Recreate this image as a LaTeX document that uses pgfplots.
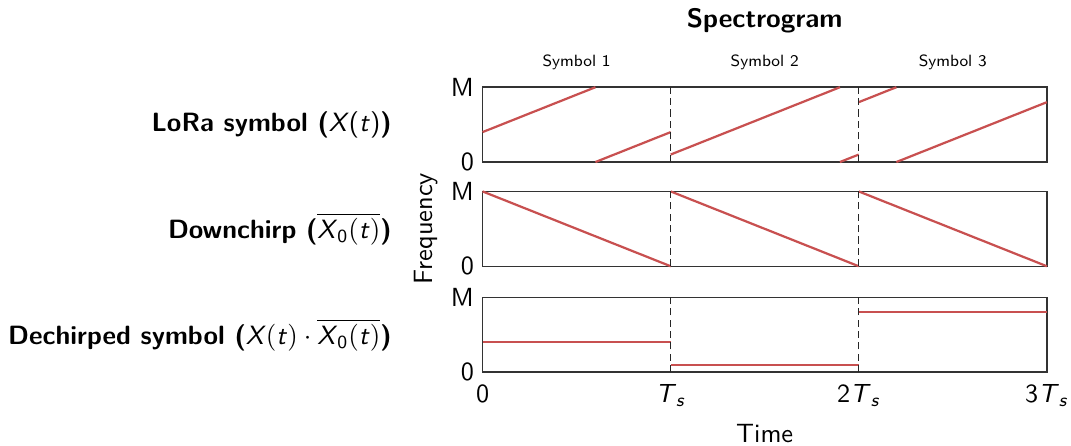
\documentclass[border=0pt]{standalone}
\usepackage{amsmath}
\usepackage{pgfplots}
\pgfplotsset{compat=1.18}
\renewcommand{\familydefault}{\sfdefault}
\newcommand{\mi}[1]{\textsf{\textit{#1}}}
\definecolor{chirp}{RGB}{200,80,80}
\newcommand{\lblfont}{\fontsize{10.7}{13}\selectfont}
\pgfplotsset{
  panel/.style={
    scale only axis, width=228.5pt, height=30.3pt,
    xmin=0, xmax=3, ymin=0, ymax=1,
    ytick={0,1}, yticklabels={\textsf{0},\textsf{M}},
    xtick=\empty, major tick length=0pt,
    axis line style={line width=0.6pt, black!80},
    tick label style={font=\fontsize{10.6}{12}\selectfont},
    xticklabel style={yshift=-1.5pt, inner xsep=1pt},
    clip=false,
  },
  chirpline/.style={chirp, line width=0.9pt, no marks},
  sep/.style={black!85, dash pattern=on 2.9pt off 1.7pt, line width=0.4pt, no marks},
}
\begin{document}
\begin{tikzpicture}
% ---------- panel 1
\begin{axis}[panel, at={(0,0)}, anchor=north west, name=p1]
  \addplot[chirpline] coordinates {(0,0.4) (0.6,1)};
  \addplot[chirpline] coordinates {(0.6,0) (1,0.4)};
  \addplot[chirpline] coordinates {(1,0.1) (1.9,1)};
  \addplot[chirpline] coordinates {(1.9,0) (2,0.1)};
  \addplot[chirpline] coordinates {(2,0.8) (2.2,1)};
  \addplot[chirpline] coordinates {(2.2,0) (3,0.8)};
  \addplot[sep] coordinates {(1,0) (1,1)};
  \addplot[sep] coordinates {(2,0) (2,1)};
  \node[font=\fontsize{6.6}{8}\selectfont] at (axis cs:0.5,1) [yshift=10pt] {Symbol 1};
  \node[font=\fontsize{6.6}{8}\selectfont] at (axis cs:1.5,1) [yshift=10pt] {Symbol 2};
  \node[font=\fontsize{6.6}{8}\selectfont] at (axis cs:2.5,1) [yshift=10pt] {Symbol 3};
  \node[font=\fontsize{10.8}{13}\selectfont\bfseries] at (rel axis cs:0.5,1) [yshift=27pt] {Spectrogram};
  \node[font=\lblfont, anchor=east] at (rel axis cs:0,0.5) [xshift=-33.3pt]
    {\textbf{LoRa symbol (}\mi{X}(\mi{t})\textbf{)}};
\end{axis}
% ---------- panel 2
\begin{axis}[panel, at={(0,-42.2pt)}, anchor=north west, name=p2,
  ylabel={Frequency},
  ylabel style={at={(axis description cs:0,0.5)}, anchor=center, rotate=0, yshift=22.9pt, font=\fontsize{10.7}{12}\selectfont}]
  \addplot[chirpline] coordinates {(0,1) (1,0)};
  \addplot[chirpline] coordinates {(1,1) (2,0)};
  \addplot[chirpline] coordinates {(2,1) (3,0)};
  \addplot[sep] coordinates {(1,0) (1,1)};
  \addplot[sep] coordinates {(2,0) (2,1)};
  \node[font=\lblfont, anchor=east] at (rel axis cs:0,0.5) [xshift=-33.3pt]
    {\textbf{Downchirp (}$\overline{\mi{X}_{\textsf{0}}(\mi{t})}$\textbf{)}};
\end{axis}
% ---------- panel 3
\begin{axis}[panel, at={(0,-85.1pt)}, anchor=north west, name=p3,
  xtick={0,1,2,3},
  xticklabels={\textsf{0}, $\mi{T}_{\mi{s}}$, $\textsf{2}\mi{T}_{\mi{s}}$, $\textsf{3}\mi{T}_{\mi{s}}$},
  xlabel={Time},
  xlabel style={at={(axis description cs:0.5,0)}, anchor=center, yshift=-24.9pt, inner sep=1pt, font=\fontsize{10.7}{12}\selectfont}]
  \addplot[chirpline] coordinates {(0,0.4) (1,0.4)};
  \addplot[chirpline] coordinates {(1,0.1) (2,0.1)};
  \addplot[chirpline] coordinates {(2,0.8) (3,0.8)};
  \addplot[sep] coordinates {(1,0) (1,1)};
  \addplot[sep] coordinates {(2,0) (2,1)};
  \node[font=\lblfont, anchor=east] at (rel axis cs:0,0.5) [xshift=-33.3pt]
    {\textbf{Dechirped symbol (}$\mi{X}(\mi{t})\cdot\overline{\mi{X}_{\textsf{0}}(\mi{t})}$\textbf{)}};
\end{axis}
\end{tikzpicture}
\end{document}
